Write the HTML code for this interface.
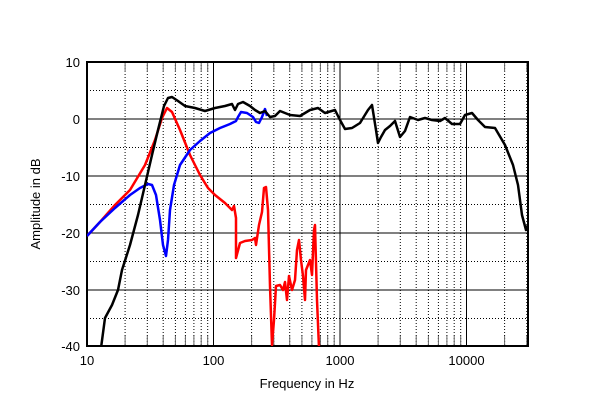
<!DOCTYPE html><html><head><style>body{margin:0;background:#fff}svg text{font-family:"Liberation Sans",Arial,sans-serif;font-size:13px}</style></head><body>
<svg width="600" height="405" xmlns="http://www.w3.org/2000/svg" xmlns:xlink="http://www.w3.org/1999/xlink">
<defs>
<g id="dec">
<g stroke="#000" stroke-width="1" stroke-dasharray="1,2">
<line x1="38.1" y1="62" x2="38.1" y2="346"/><line x1="60.3" y1="62" x2="60.3" y2="346"/><line x1="76.2" y1="62" x2="76.2" y2="346"/><line x1="88.4" y1="62" x2="88.4" y2="346"/><line x1="98.4" y1="62" x2="98.4" y2="346"/><line x1="106.9" y1="62" x2="106.9" y2="346"/><line x1="114.2" y1="62" x2="114.2" y2="346"/><line x1="120.7" y1="62" x2="120.7" y2="346"/></g>
<g stroke="#666" stroke-width="1">
<line x1="38.1" y1="62" x2="38.1" y2="72"/><line x1="60.3" y1="62" x2="60.3" y2="72"/><line x1="76.2" y1="62" x2="76.2" y2="72"/><line x1="88.4" y1="62" x2="88.4" y2="72"/><line x1="98.4" y1="62" x2="98.4" y2="72"/><line x1="106.9" y1="62" x2="106.9" y2="72"/><line x1="114.2" y1="62" x2="114.2" y2="72"/><line x1="120.7" y1="62" x2="120.7" y2="72"/>
<line x1="38.1" y1="336" x2="38.1" y2="346"/><line x1="60.3" y1="336" x2="60.3" y2="346"/><line x1="76.2" y1="336" x2="76.2" y2="346"/><line x1="88.4" y1="336" x2="88.4" y2="346"/><line x1="98.4" y1="336" x2="98.4" y2="346"/><line x1="106.9" y1="336" x2="106.9" y2="346"/><line x1="114.2" y1="336" x2="114.2" y2="346"/><line x1="120.7" y1="336" x2="120.7" y2="346"/></g>
</g>
<clipPath id="c"><rect x="87" y="62" width="441" height="284"/></clipPath>
</defs>
<g clip-path="url(#c)">
<use xlink:href="#dec" x="87"/><use xlink:href="#dec" x="213.5"/><use xlink:href="#dec" x="340"/><use xlink:href="#dec" x="466.5"/>
</g>
<g stroke="#000" stroke-width="1" stroke-dasharray="1,2">
<line x1="87" y1="90.5" x2="528" y2="90.5"/><line x1="87" y1="147.5" x2="528" y2="147.5"/><line x1="87" y1="204.5" x2="528" y2="204.5"/><line x1="87" y1="261.5" x2="528" y2="261.5"/><line x1="87" y1="318.5" x2="528" y2="318.5"/></g>
<g stroke="#000" stroke-width="1">
<line x1="87" y1="119" x2="528" y2="119"/><line x1="87" y1="176" x2="528" y2="176"/><line x1="87" y1="233" x2="528" y2="233"/><line x1="87" y1="290" x2="528" y2="290"/>
<line x1="213.5" y1="62" x2="213.5" y2="346"/><line x1="340" y1="62" x2="340" y2="346"/><line x1="466.5" y1="62" x2="466.5" y2="346"/></g>
<rect x="87" y="62" width="441" height="284" fill="none" stroke="#000" stroke-width="2"/>
<g clip-path="url(#c)" fill="none" stroke-width="2.5" stroke-linejoin="round">
<polyline stroke="#f00" points="87,236 100,222 115,205 130,190 145,165 155,140 162,118 167,108 172,112 180,130 190,155 200,175 208,188 215,195 225,203 232,210 234,206 236,218 236,258 240,243 245,241 252,240 255,238 256,245 259,225 262,212 264,188 266,187 268,210 270,286 272,345 274,320 276,286 280,285 283,290 285,282 287,300 289,276 292,290 295,280 297,250 299,240 301,260 303,276 305,300 306,270 310,260 312,275 314,230 315,225 317,300 319,348 321,348"/>
<polyline stroke="#00f" points="87,236 100,222 115,208 130,195 140,188 148,184 152,185 156,195 160,220 163,245 166,256 168,240 170,210 174,185 180,165 190,150 200,141 210,133 220,128 230,124 236,121 238,117 241,112 247,113 253,117 256,122 259,123 262,117 265,109 267,116"/>
<polyline stroke="#000" points="101,348 105,318 112,305 118,290 122,270 130,245 138,215 145,185 152,155 158,130 164,106 168,98 172,97 178,101 185,106 195,108 205,111 215,108 225,106 232,104 235,110 238,104 243,102 250,106 255,110 260,113 265,111 270,117 275,116 280,111 290,115 300,116 310,110 318,108 325,113 335,110 340,120 345,129 352,128 360,123 368,110 372,105 376,130 378,143 381,137 385,130 390,126 395,121 400,137 405,131 410,117 418,120 425,118 432,120 440,121 445,118 452,124 460,124 465,115 472,113 478,120 485,127 495,128 505,145 513,165 518,185 522,215 526,230 528,225"/>
</g>
<g text-anchor="end">
<text x="80" y="67">10</text><text x="80" y="124">0</text><text x="80" y="181">-10</text><text x="80" y="238">-20</text><text x="80" y="295">-30</text><text x="80" y="351">-40</text></g>
<g text-anchor="middle">
<text x="87" y="365">10</text><text x="213.5" y="365">100</text><text x="340" y="365">1000</text><text x="466.5" y="365">10000</text>
<text x="307" y="388">Frequency in Hz</text>
<text transform="translate(40,204) rotate(-90)">Amplitude in dB</text></g>
</svg></body></html>
